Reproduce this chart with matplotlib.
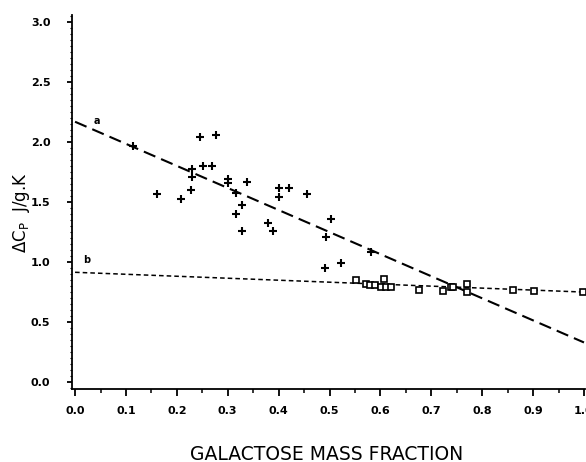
import matplotlib
matplotlib.use("Agg")
import matplotlib.pyplot as plt
from matplotlib.ticker import MultipleLocator
import numpy as np

# --- dados ---
plus_x = [0.114, 0.161, 0.208, 0.227, 0.230, 0.230, 0.246, 0.251, 0.269, 0.277,
          0.301, 0.301, 0.316, 0.316, 0.328, 0.328, 0.338, 0.379, 0.389, 0.401,
          0.401, 0.421, 0.455, 0.502, 0.494, 0.491, 0.522, 0.581]
plus_y = [1.97, 1.57, 1.53, 1.60, 1.78, 1.71, 2.04, 1.80, 1.80, 2.06,
          1.69, 1.66, 1.58, 1.40, 1.48, 1.26, 1.67, 1.33, 1.26, 1.62,
          1.54, 1.62, 1.57, 1.36, 1.21, 0.95, 0.99, 1.08]

sq_x = [0.552, 0.572, 0.580, 0.589, 0.607, 0.601, 0.611, 0.621, 0.676, 0.722,
        0.739, 0.743, 0.770, 0.770, 0.861, 0.902, 0.998]
sq_y = [0.85, 0.82, 0.81, 0.81, 0.86, 0.79, 0.79, 0.79, 0.77, 0.76,
        0.79, 0.79, 0.82, 0.75, 0.77, 0.76, 0.75]

# retas ajustadas (a e b)
line_a = (2.17, -1.84)   # intercepto, inclinacao
line_b = (0.915, -0.165)

x_ticks = [0.0, 0.1, 0.2, 0.3, 0.4, 0.5, 0.6, 0.7, 0.8, 0.9, 1.0]
y_ticks = [0.0, 0.5, 1.0, 1.5, 2.0, 2.5, 3.0]

tick_font = {"family": ["Liberation Sans Narrow", "DejaVu Sans"],
             "weight": "bold", "size": 8}

fig = plt.figure(figsize=(5.86, 4.62), dpi=100)
ax = fig.add_axes([72 / 586, 73 / 462, 513 / 586, 374 / 462])

xx = np.array([0.0, 1.0])
ax.plot(xx, line_a[0] + line_a[1] * xx, color="black", lw=1.5,
        dashes=(6, 3))
ax.plot(xx, line_b[0] + line_b[1] * xx, color="black", lw=1.1,
        dashes=(3, 2))

ax.plot(plus_x, plus_y, linestyle="none", marker="+", ms=6, mew=1.5,
        color="black")
ax.plot(sq_x, sq_y, linestyle="none", marker="s", ms=4.5, mew=1.2,
        mfc="white", mec="black")

ax.text(0.043, 2.18, "a", fontsize=7, fontweight="bold", ha="center",
        va="center")
ax.text(0.023, 1.02, "b", fontsize=7, fontweight="bold", ha="center",
        va="center")

ax.set_xlim(-0.006, 1.002)
ax.set_ylim(-0.058, 3.06)

ax.spines["top"].set_visible(False)
ax.spines["right"].set_visible(False)
ax.spines["left"].set_linewidth(1.3)
ax.spines["bottom"].set_linewidth(1.3)

ax.set_xticks(x_ticks)
ax.set_xticklabels([f"{v:.1f}" for v in x_ticks], fontdict=tick_font)
ax.set_yticks(y_ticks)
ax.set_yticklabels([f"{v:.1f}" for v in y_ticks], fontdict=tick_font)
ax.xaxis.set_minor_locator(MultipleLocator(0.05))
ax.yaxis.set_minor_locator(MultipleLocator(0.05))
# comprimentos e pads em pontos (1 px = 0.72 pt)
ax.tick_params(axis="x", which="major", direction="out", length=5,
               width=1.3, pad=7)
ax.tick_params(axis="x", which="minor", direction="out", length=3, width=1.1)
ax.tick_params(axis="y", which="major", direction="out", length=3.6,
               width=1.3, pad=12)
ax.tick_params(axis="y", which="minor", direction="out", length=1.5,
               width=0.8)

fig.text(327 / 586, 1 - 454 / 462, "GALACTOSE MASS FRACTION", fontsize=13.5,
         ha="center", va="center")
fig.text(22 / 586, 1 - 213 / 462, r"$\Delta$C$_\mathrm{P}$  J/g.K",
         fontsize=12, rotation=90, ha="center", va="center")

fig.savefig("out.png", dpi=100)
